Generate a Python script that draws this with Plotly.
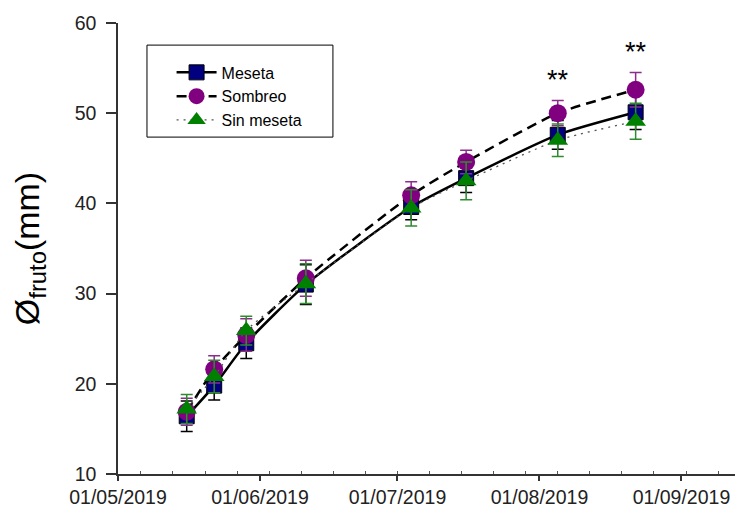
import plotly.graph_objects as go

# ---- data ----
dates = ["2019-05-16", "2019-05-22", "2019-05-29", "2019-06-11",
         "2019-07-04", "2019-07-16", "2019-08-05", "2019-08-22"]
meseta = [16.4, 19.8, 24.5, 31.0, 39.6, 42.8, 47.6, 50.1]
meseta_err = [1.7, 1.6, 1.7, 2.2, 1.4, 1.6, 1.6, 1.9]
sombreo = [16.9, 21.6, 25.4, 31.7, 40.9, 44.6, 50.0, 52.6]
sombreo_err = [1.5, 1.5, 1.8, 2.0, 1.5, 1.3, 1.4, 1.9]
sin_meseta = [17.2, 20.8, 25.9, 31.1, 39.5, 42.5, 47.0, 49.1]
sin_meseta_err = [1.6, 1.8, 1.6, 2.2, 2.0, 2.1, 1.8, 2.0]

sig_dates = ["2019-08-05", "2019-08-22"]
sig_y = [53.7, 56.8]
sig_text = ["**", "**"]

y_ticks = [10, 20, 30, 40, 50, 60]

FONT = "Arial, Liberation Sans, sans-serif"

fig = go.Figure()

fig.add_trace(go.Scatter(
    x=dates, y=meseta, name="Meseta", mode="lines+markers",
    line=dict(color="black", width=2.5, shape="spline", smoothing=0.6),
    marker=dict(symbol="square", size=15, color="#000080",
                line=dict(color="black", width=1)),
    error_y=dict(type="data", array=meseta_err, color="black",
                 thickness=1.5, width=6),
))
fig.add_trace(go.Scatter(
    x=dates, y=sombreo, name="Sombreo", mode="lines+markers",
    line=dict(color="black", width=2.5, dash="10px,6px", shape="spline", smoothing=0.6),
    marker=dict(symbol="circle", size=18, color="#800080",
                line=dict(color="#800080", width=0)),
    error_y=dict(type="data", array=sombreo_err, color="#8e2c8e",
                 thickness=1.5, width=6),
))
fig.add_trace(go.Scatter(
    x=dates, y=sin_meseta, name="Sin meseta", mode="lines+markers",
    line=dict(color="#555555", width=1.3, dash="2px,5px", shape="spline", smoothing=0.6),
    marker=dict(symbol="triangle-up", size=18, color="#008000",
                line=dict(color="#008000", width=0)),
    error_y=dict(type="data", array=sin_meseta_err, color="#2e8b2e",
                 thickness=1.5, width=6),
))

for d, yv, t in zip(sig_dates, sig_y, sig_text):
    fig.add_annotation(x=d, y=yv, text=t, showarrow=False,
                       font=dict(family=FONT, size=27, color="black"))

# legend box
fig.add_shape(type="rect", xref="paper", yref="paper",
              x0=0.0465, x1=0.345, y0=0.747, y1=0.951,
              line=dict(color="black", width=1), fillcolor="rgba(0,0,0,0)")

# page body has an 8px margin, so the figure is sized to fit inside the window
fig.update_layout(
    width=735, height=505,
    margin=dict(l=110, r=2, t=15, b=39, autoexpand=False),
    paper_bgcolor="white", plot_bgcolor="white",
    font=dict(family=FONT, color="#222222"),
    showlegend=True,
    legend=dict(x=0.086, y=0.928, xanchor="left", yanchor="top",
                bgcolor="rgba(0,0,0,0)", borderwidth=0,
                font=dict(family=FONT, size=16, color="black"),
                itemwidth=40, tracegroupgap=0),
    xaxis=dict(
        type="date", range=["2019-05-01", "2019-09-14"],
        tickmode="linear", tick0="2019-05-01", dtick="M1",
        tickformat="%d/%m/%Y", automargin=False,
        showline=True, linecolor="#333333", linewidth=1.5,
        ticks="outside", ticklen=5, tickwidth=1.5, tickcolor="#333333",
        tickfont=dict(family=FONT, size=19.5, color="#222222"),
        showgrid=False, zeroline=False,
        minor=dict(ticks="inside", ticklen=3, tickwidth=1, tickcolor="#555555",
                   dtick=7 * 86400000, tick0="2019-05-06", showgrid=False),
    ),
    yaxis=dict(
        range=[10, 60], tickvals=y_ticks, automargin=False,
        showline=True, linecolor="#333333", linewidth=1.5,
        ticks="outside", ticklen=10, tickwidth=1.5, tickcolor="#333333",
        tickfont=dict(family=FONT, size=19.5, color="#222222"),
        ticklabelstandoff=6,
        showgrid=False, zeroline=False,
        title=dict(text="Ø<sub>fruto</sub>(mm)",
                   font=dict(family=FONT, size=34, color="black"),
                   standoff=26),
    ),
)

fig.write_html("out.html")
